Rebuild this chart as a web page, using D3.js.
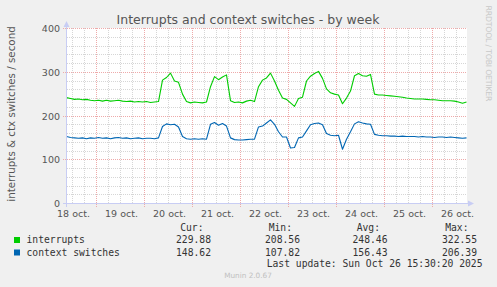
<!DOCTYPE html>
<html>
<head>
<meta charset="utf-8">
<script src="https://cdnjs.cloudflare.com/ajax/libs/d3/7.8.5/d3.min.js"></script>
<style>
  html, body { margin: 0; padding: 0; background: #f0f0f0; }
  svg { display: block; }
  text { font-family: "DejaVu Sans", sans-serif; }
  .mono { font-family: "DejaVu Sans Mono", monospace; }
</style>
</head>
<body>
<script>
// samples every 2 hours, starting 18 oct 09:00
var startTime = new Date(2025, 9, 18, 9, 0),
    stepHours = 2;

var interrupts = [
  242, 240, 238, 239, 237, 238, 236, 235, 236, 234,
  236, 234, 235, 236, 234, 233, 234, 232, 233, 232,
  233, 231, 232, 233, 282, 288, 298, 280, 277, 250,
  233, 230, 232, 231, 230, 232, 267, 290, 283, 289,
  294, 235, 231, 232, 230, 234, 236, 233, 267, 282,
  287, 298, 280, 259, 241, 238, 230, 222, 240, 243,
  280, 291, 297, 302, 286, 262, 253, 250, 248, 228,
  241, 257, 292, 297, 292, 291, 295, 250, 248, 248,
  247, 246, 245, 244, 243, 241, 240, 239, 239, 239,
  238, 237, 237, 236, 235, 235, 235, 234, 232, 229, 232
];

var ctxSwitches = [
  153, 151, 150, 149, 150, 148, 150, 149, 151, 149,
  150, 148, 150, 151, 149, 150, 148, 149, 150, 148,
  149, 149, 148, 150, 176, 182, 180, 181, 175, 153,
  148, 147, 148, 147, 148, 147, 181, 185, 179, 183,
  177, 150, 146, 145, 145, 146, 147, 147, 175, 177,
  184, 191, 181, 164, 152, 152, 127, 128, 150, 152,
  166, 180, 183, 184, 180, 160, 156, 155, 156, 124,
  147, 164, 182, 187, 184, 182, 181, 158, 156, 155,
  155, 154, 154, 153, 154, 153, 153, 153, 152, 153,
  152, 152, 151, 152, 152, 151, 152, 151, 150, 149, 150
];

var dayLabels = ["18 oct.", "19 oct.", "20 oct.", "21 oct.", "22 oct.",
                 "23 oct.", "24 oct.", "25 oct.", "26 oct."];
var yTicks = [0, 100, 200, 300, 400];

var seriesNames = ["interrupts", "context switches"],
    seriesColors = ["#00cc00", "#0066b3"],
    curValues = ["229.88", "148.62"],
    minValues = ["208.56", "107.82"],
    avgValues = ["248.46", "156.43"],
    maxValues = ["322.55", "206.39"];

var w = 497, h = 287;

var svg = d3.select("body").append("svg").attr("width", w).attr("height", h);

var x = d3.scaleTime()
  .domain([startTime, d3.timeHour.offset(startTime, 200)])
  .range([66.5, 466.5]);
var y = d3.scaleLinear().domain([0, 400]).range([203.5, 28.5]);

function px(v) { return Math.floor(v) + 0.5; }

// plot canvas
svg.append("rect").attr("x", 67).attr("y", 28).attr("width", 400).attr("height", 176)
  .attr("fill", "#ffffff");

var grid = svg.append("g");

// minor grid: every 6 hours / every 20 units
var minorX = d3.timeHour.every(6).range(startTime, x.domain()[1])
  .filter(function (d) { return d.getHours() !== 0; });
grid.selectAll(".vminor").data(minorX).enter().append("line")
  .attr("x1", function (d) { return px(x(d)); }).attr("x2", function (d) { return px(x(d)); })
  .attr("y1", 28).attr("y2", 204)
  .attr("stroke", "#d6d6d6").attr("stroke-dasharray", "1,1");
grid.selectAll(".hminor").data(d3.range(20, 400, 20).filter(function (v) { return v % 100; }))
  .enter().append("line")
  .attr("x1", 67).attr("x2", 467)
  .attr("y1", function (d) { return px(y(d)); }).attr("y2", function (d) { return px(y(d)); })
  .attr("stroke", "#d6d6d6").attr("stroke-dasharray", "1,1");

// major grid: midnights / every 100 units
var days = d3.timeDay.range(startTime, x.domain()[1]);
grid.selectAll(".vmajor").data(days).enter().append("line")
  .attr("x1", function (d) { return px(x(d)); }).attr("x2", function (d) { return px(x(d)); })
  .attr("y1", 28).attr("y2", 207)
  .attr("stroke", "#eeaaaa").attr("stroke-dasharray", "1,1");
grid.selectAll(".hmajor").data(yTicks.slice(1)).enter().append("line")
  .attr("x1", 63).attr("x2", 467)
  .attr("y1", function (d) { return px(y(d)); }).attr("y2", function (d) { return px(y(d)); })
  .attr("stroke", "#eeaaaa").attr("stroke-dasharray", "1,1");

// series
var line = d3.line()
  .x(function (d, i) { return x(d3.timeHour.offset(startTime, i * stepHours)); })
  .y(function (d) { return y(d); });

[interrupts, ctxSwitches].forEach(function (s, k) {
  svg.append("path").datum(s)
    .attr("d", line)
    .attr("fill", "none")
    .attr("stroke", seriesColors[k])
    .attr("stroke-width", 1.1)
    .attr("stroke-linejoin", "round");
});

// axes with arrows
var axisColor = "#c8cdf4";
svg.append("line").attr("x1", 66.5).attr("x2", 66.5).attr("y1", 207).attr("y2", 26)
  .attr("stroke", axisColor);
svg.append("line").attr("x1", 63).attr("x2", 469).attr("y1", 203.5).attr("y2", 203.5)
  .attr("stroke", axisColor);
svg.append("path").attr("d", "M63.5,27 L66.5,21 L69.5,27 Z").attr("fill", axisColor);
svg.append("path").attr("d", "M468,200.5 L474,203.5 L468,206.5 Z").attr("fill", axisColor);

// tick labels
svg.selectAll(".ylab").data(yTicks).enter().append("text")
  .attr("x", 60).attr("y", function (d) { return y(d) + 3.5; })
  .attr("text-anchor", "end").attr("font-size", "9.5px").attr("fill", "#555")
  .text(function (d) { return d; });

svg.selectAll(".xlab").data(dayLabels).enter().append("text")
  .attr("x", function (d, i) { return x(d3.timeHour.offset(d3.timeDay.ceil(startTime), 24 * i - 12)) + 1; })
  .attr("y", 216.5)
  .attr("text-anchor", "middle").attr("font-size", "9.5px").attr("fill", "#555")
  .text(function (d) { return d; });

// title and axis label
svg.append("text").attr("x", 248).attr("y", 24)
  .attr("text-anchor", "middle").attr("font-size", "12.5px").attr("fill", "#555")
  .text("Interrupts and context switches - by week");

svg.append("text").attr("transform", "translate(14.5,114) rotate(-90)")
  .attr("text-anchor", "middle").attr("font-size", "10.3px").attr("fill", "#555")
  .text("interrupts & ctx switches / second");

svg.append("text").attr("transform", "translate(485.5,53.5) rotate(90)")
  .attr("text-anchor", "middle").attr("font-size", "7.8px").attr("fill", "#c8c8c8")
  .attr("textLength", 96).attr("lengthAdjust", "spacing")
  .text("RRDTOOL / TOBI OETIKER");

// legend
var legendFont = "9.7px",
    rowY = [243, 255.5],
    cols = [
      { head: "Cur:", hx: 203.5, vx: 211, vals: curValues },
      { head: "Min:", hx: 292, vx: 300, vals: minValues },
      { head: "Avg:", hx: 380, vx: 387.5, vals: avgValues },
      { head: "Max:", hx: 468.5, vx: 477, vals: maxValues }
    ];

seriesNames.forEach(function (name, i) {
  svg.append("rect").attr("x", 14).attr("y", rowY[i] - 6).attr("width", 6).attr("height", 6)
    .attr("fill", seriesColors[i]);
  svg.append("text").attr("class", "mono").attr("x", 26.5).attr("y", rowY[i])
    .attr("font-size", legendFont).attr("fill", "#333").text(name);
});

cols.forEach(function (c) {
  svg.append("text").attr("class", "mono").attr("x", c.hx).attr("y", 230.5)
    .attr("text-anchor", "end").attr("font-size", legendFont).attr("fill", "#333").text(c.head);
  c.vals.forEach(function (v, i) {
    svg.append("text").attr("class", "mono").attr("x", c.vx).attr("y", rowY[i])
      .attr("text-anchor", "end").attr("font-size", legendFont).attr("fill", "#333").text(v);
  });
});

svg.append("text").attr("class", "mono").attr("x", 482.5).attr("y", 266.5)
  .attr("text-anchor", "end").attr("font-size", legendFont).attr("fill", "#333")
  .text("Last update: Sun Oct 26 15:30:20 2025");

svg.append("text").attr("x", 248).attr("y", 278)
  .attr("text-anchor", "middle").attr("font-size", "7.3px").attr("fill", "#c0c0c0")
  .text("Munin 2.0.67");
</script>
</body>
</html>
